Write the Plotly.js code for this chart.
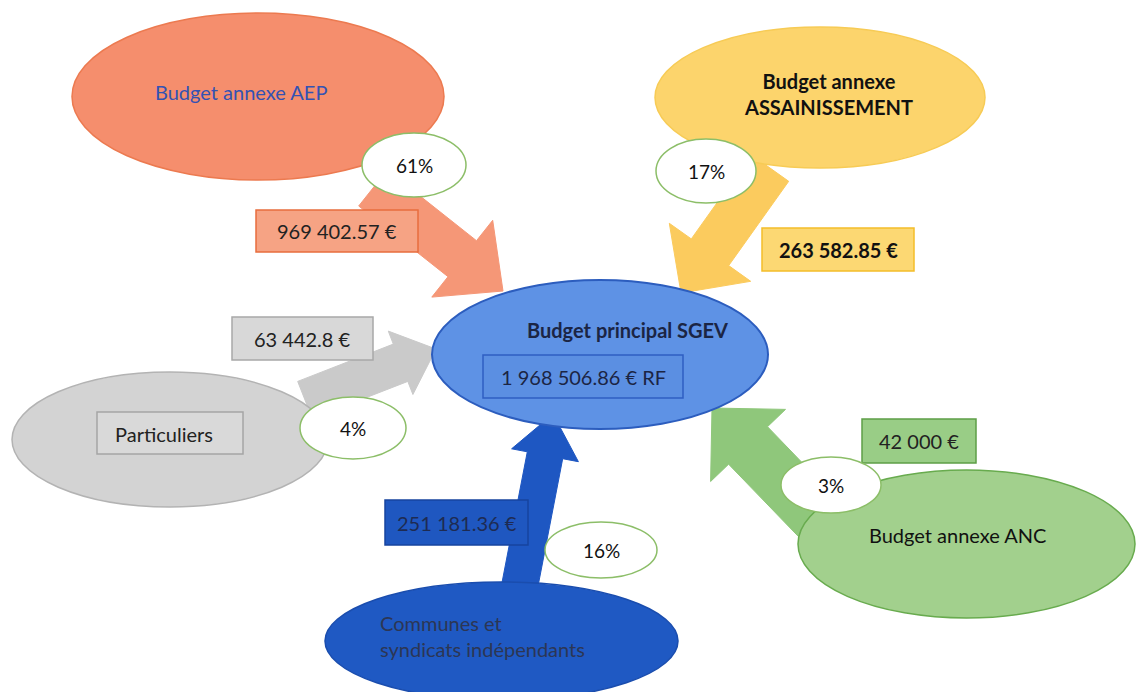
<!DOCTYPE html>
<html>
<head>
<meta charset="utf-8">
<script src="https://cdn.plot.ly/plotly-3.0.1.min.js"></script>
<style>
  html, body { margin: 0; padding: 0; background: #ffffff; }
  #chart { width: 1137px; height: 692px; }
</style>
</head>
<body>
<div id="chart"></div>
<script>
// ---------------- DATA ----------------
const sourceNames = ["Budget annexe AEP", "Budget annexe<br>ASSAINISSEMENT", "Particuliers", "Communes et<br>syndicats indépendants", "Budget annexe ANC"];
const sourceAmounts = [969402.57, 263582.85, 63442.8, 251181.36, 42000];
const sourceShares = ["61%", "17%", "4%", "16%", "3%"];
const targetName = "Budget principal SGEV";
const targetAmount = 1968506.86;
const targetSuffix = " € RF";

// ---------------- LAYOUT / STYLE (pixel geometry of the diagram) ----------------
const W = 1137, H = 692;
const FONT = "Lato, 'Open Sans', sans-serif";
const TXT = 20, PCT = 19;
const geom = [
  { // AEP
    ell: [72, 13, 444, 180], fill: "#F58E6D", line: "#EC7A50",
    label: [241, 92], labelColor: "#3352B3", labelBold: false, labelAlign: "center",
    pct: [414, 165, 52, 32],
    arrow: { tail: [373, 188], tip: [503, 291], w: 46, hw: 98, hl: 52, fill: "#F59777" },
    box: [256, 210, 418, 252], boxFill: "#F6A384", boxLine: "#E86E3E", boxText: "#222", boxBold: false
  },
  { // ASSAINISSEMENT
    ell: [655, 27, 985, 168], fill: "#FCD46C", line: "#F7CB55",
    label: [828, 94], labelColor: "#111", labelBold: true, labelAlign: "center",
    pct: [706, 171, 50, 32],
    arrow: { tail: [770, 168], tip: [681, 293], w: 46, hw: 100, hl: 50, fill: "#FBCB5E" },
    box: [762, 228, 914, 271], boxFill: "#FCD873", boxLine: "#F3BD2A", boxText: "#111", boxBold: true
  },
  { // Particuliers
    ell: [12, 372, 328, 507], fill: "#D3D3D3", line: "#B3B3B3",
    label: [164, 434], labelColor: "#222", labelBold: false, labelAlign: "center",
    labelBox: [97, 412, 243, 454],
    pct: [353, 428, 53, 31],
    arrow: { tail: [305, 400], tip: [436, 349], w: 40, hw: 68, hl: 38, fill: "#CACACA" },
    box: [232, 317, 373, 360], boxFill: "#D8D8D8", boxLine: "#A8A8A8", boxText: "#222", boxBold: false
  },
  { // Communes
    ell: [325, 582, 678, 700], fill: "#1F59C3", line: "#1A4DAE",
    label: [378, 636], labelColor: "#2C3654", labelBold: false, labelAlign: "left",
    pct: [601, 550, 56, 28],
    arrow: { tail: [517, 600], tip: [553, 414], w: 36, hw: 68, hl: 42, fill: "#1E57C2" },
    box: [385, 500, 528, 545], boxFill: "#1F57C0", boxLine: "#17449E", boxText: "#1E2B52", boxBold: false
  },
  { // ANC
    ell: [798, 470, 1135, 618], fill: "#A2D08D", line: "#68AB4E",
    label: [957, 535], labelColor: "#111", labelBold: false, labelAlign: "center",
    pct: [831, 485, 50, 28],
    arrow: { tail: [818, 518], tip: [712, 408], w: 54, hw: 104, hl: 52, fill: "#8FC77B" },
    box: [862, 419, 976, 463], boxFill: "#99CD86", boxLine: "#5E9E47", boxText: "#222", boxBold: false
  }
];
const center = { ell: [432, 280, 768, 429], fill: "#5E92E5", line: "#2C5DBE",
  label: [627, 330], box: [483, 355, 683, 398], boxFill: "#5B8FE2", boxLine: "#2F5FC2", textColor: "#1B2544" };

// ---------------- HELPERS ----------------
function fmtAmount(v) {
  const s = String(v);
  const parts = s.split(".");
  const intPart = parts[0].replace(/\B(?=(\d{3})+(?!\d))/g, " ");
  return parts.length > 1 ? intPart + "." + parts[1] : intPart;
}
function arrowPath(a) {
  const dx = a.tip[0] - a.tail[0], dy = a.tip[1] - a.tail[1];
  const L = Math.hypot(dx, dy);
  const ux = dx / L, uy = dy / L;
  const nx = -uy, ny = ux;
  const bx = a.tip[0] - ux * a.hl, by = a.tip[1] - uy * a.hl;
  const p = [
    [a.tail[0] + nx * a.w / 2, a.tail[1] + ny * a.w / 2],
    [bx + nx * a.w / 2, by + ny * a.w / 2],
    [bx + nx * a.hw / 2, by + ny * a.hw / 2],
    [a.tip[0], a.tip[1]],
    [bx - nx * a.hw / 2, by - ny * a.hw / 2],
    [bx - nx * a.w / 2, by - ny * a.w / 2],
    [a.tail[0] - nx * a.w / 2, a.tail[1] - ny * a.w / 2]
  ];
  return "M" + p.map(q => q[0].toFixed(1) + "," + q[1].toFixed(1)).join(" L") + " Z";
}
function ellipse(b, fill, line, lw) {
  return { type: "circle", xref: "x", yref: "y", x0: b[0], y0: b[1], x1: b[2], y1: b[3],
    fillcolor: fill, line: { color: line, width: lw || 1.5 }, layer: "above" };
}
function rect(b, fill, line) {
  return { type: "rect", xref: "x", yref: "y", x0: b[0], y0: b[1], x1: b[2], y1: b[3],
    fillcolor: fill, line: { color: line, width: 1.5 }, layer: "above" };
}
function text(x, y, t, color, size, bold, align) {
  return { x: x, y: y, xref: "x", yref: "y", text: bold ? "<b>" + t + "</b>" : t,
    showarrow: false, align: align || "center", xanchor: align === "left" ? "left" : "center",
    yanchor: "middle", font: { family: FONT, size: size || TXT, color: color } };
}

// ---------------- BUILD ----------------
const shapes = [];
const annotations = [];

geom.forEach(g => shapes.push({ type: "path", xref: "x", yref: "y", path: arrowPath(g.arrow),
  fillcolor: g.arrow.fill, line: { color: g.arrow.fill, width: 1 }, layer: "above" }));
geom.forEach(g => shapes.push(ellipse(g.ell, g.fill, g.line)));
shapes.push(ellipse(center.ell, center.fill, center.line, 2));
shapes.push(rect(center.box, center.boxFill, center.boxLine));
geom.forEach(g => {
  shapes.push(rect(g.box, g.boxFill, g.boxLine));
  if (g.labelBox) shapes.push(rect(g.labelBox, "#D9D9D9", "#A5A5A5"));
});
geom.forEach(g => {
  const p = g.pct;
  shapes.push(ellipse([p[0] - p[2], p[1] - p[3], p[0] + p[2], p[1] + p[3]], "#FFFFFF", "#8CBE68", 1.5));
});

geom.forEach((g, i) => {
  annotations.push(text(g.label[0], g.label[1], sourceNames[i], g.labelColor, TXT, g.labelBold, g.labelAlign));
  annotations.push(text(g.pct[0], g.pct[1], sourceShares[i], "#111", PCT, false));
  annotations.push(text((g.box[0] + g.box[2]) / 2, (g.box[1] + g.box[3]) / 2,
    fmtAmount(sourceAmounts[i]) + " €", g.boxText, TXT, g.boxBold));
});
annotations.push(text(center.label[0], center.label[1], targetName, center.textColor, TXT, true));
annotations.push(text((center.box[0] + center.box[2]) / 2, (center.box[1] + center.box[3]) / 2,
  fmtAmount(targetAmount) + targetSuffix, center.textColor, TXT, false));

const layout = {
  width: W, height: H,
  margin: { l: 0, r: 0, t: 0, b: 0, pad: 0 },
  paper_bgcolor: "#ffffff", plot_bgcolor: "#ffffff",
  xaxis: { range: [0, W], visible: false, fixedrange: true },
  yaxis: { range: [H, 0], visible: false, fixedrange: true },
  showlegend: false,
  shapes: shapes,
  annotations: annotations
};

Plotly.newPlot("chart", [{ x: [], y: [], type: "scatter", hoverinfo: "skip" }], layout,
  { staticPlot: true, displayModeBar: false });
</script>
</body>
</html>
